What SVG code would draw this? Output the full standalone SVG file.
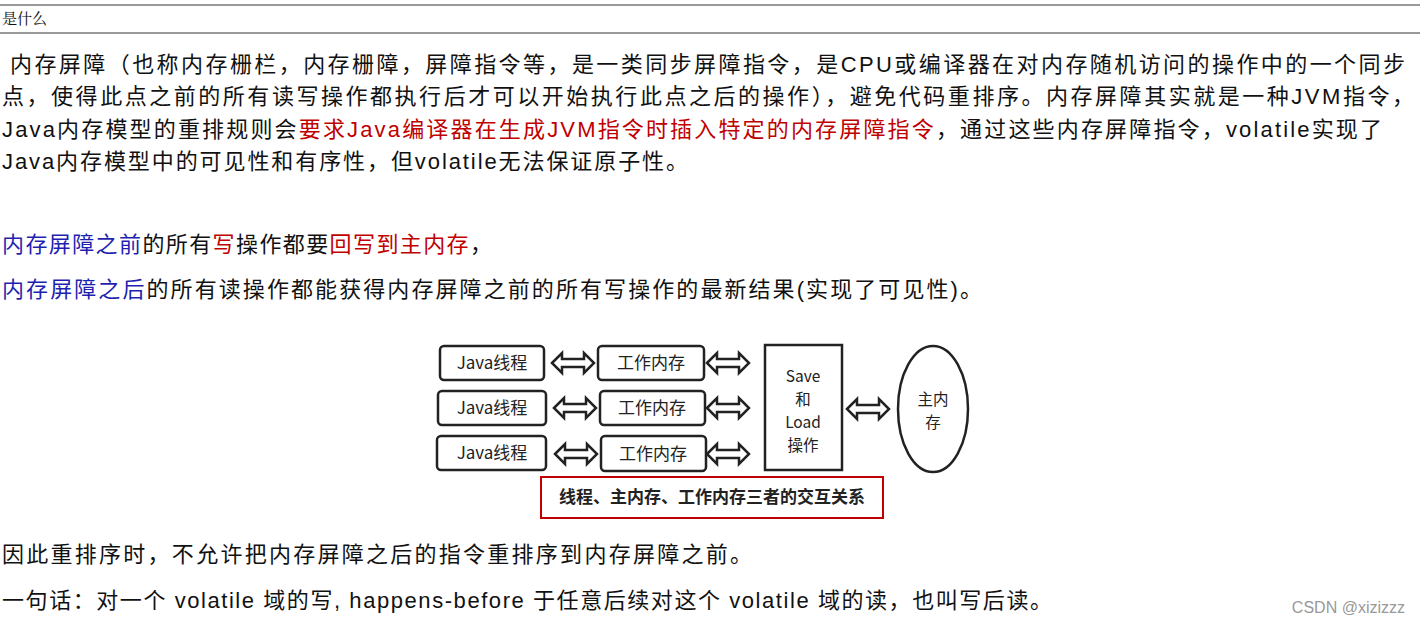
<svg xmlns="http://www.w3.org/2000/svg" width="1420" height="626" viewBox="0 0 1420 626">
<defs>
<style>
.t{font-family:"Liberation Sans","Noto Sans CJK SC",sans-serif;font-size:22px;fill:#111}
.r{fill:#c00000}.b{fill:#1f1fb0}
.n{fill:#fff;stroke:#222;stroke-width:2.5}
.nl{font-family:"Noto Sans CJK SC",sans-serif;font-size:17px;fill:#222;text-anchor:middle}
.sl{font-size:15.5px}
.ar{fill:#fff;stroke:#222;stroke-width:2.5;stroke-linejoin:miter}
</style>
<path id="da" d="M0,0 l10,-10 v6 h22 v-6 l10,10 l-10,10 v-6 h-22 v6 z"/>
</defs>
<rect width="1420" height="626" fill="#fff"/>
<line x1="0" y1="5" x2="1420" y2="5" stroke="#999" stroke-width="2"/>
<line x1="0" y1="33" x2="1420" y2="33" stroke="#999" stroke-width="2"/>
<text x="2" y="24" font-family="'Noto Serif CJK SC','Noto Sans CJK SC',serif" font-size="15" fill="#111">是什么</text>
<text class="t" x="10" y="72" textLength="1395">内存屏障（也称内存栅栏，内存栅障，屏障指令等，是一类同步屏障指令，是CPU或编译器在对内存随机访问的操作中的一个同步</text>
<text class="t" x="2" y="104" textLength="1412">点，使得此点之前的所有读写操作都执行后才可以开始执行此点之后的操作），避免代码重排序。内存屏障其实就是一种JVM指令，</text>
<text class="t" x="2" y="137" textLength="1380">Java内存模型的重排规则会<tspan class="r">要求Java编译器在生成JVM指令时插入特定的内存屏障指令</tspan>，通过这些内存屏障指令，volatile实现了</text>
<text class="t" x="2" y="169" textLength="686">Java内存模型中的可见性和有序性，但volatile无法保证原子性。</text>
<text class="t" x="2" y="252" textLength="490"><tspan class="b">内存屏障之前</tspan>的所有<tspan class="r">写</tspan>操作都要<tspan class="r">回写到主内存</tspan>，</text>
<text class="t" x="2" y="297" textLength="980"><tspan class="b">内存屏障之后</tspan>的所有读操作都能获得内存屏障之前的所有写操作的最新结果(实现了可见性)。</text>
<g id="java1"><rect class="n" x="440" y="346" width="104" height="34" rx="4"/><text class="nl" x="492" y="369">Java线程</text></g>
<g id="java2"><rect class="n" x="438" y="391" width="108" height="34" rx="4"/><text class="nl" x="492" y="414">Java线程</text></g>
<g id="java3"><rect class="n" x="437" y="436" width="109" height="34" rx="4"/><text class="nl" x="492" y="459">Java线程</text></g>
<g id="work1"><rect class="n" x="598" y="346" width="106" height="34" rx="4"/><text class="nl" x="651" y="369">工作内存</text></g>
<g id="work2"><rect class="n" x="600" y="391" width="105" height="34" rx="4"/><text class="nl" x="652" y="414">工作内存</text></g>
<g id="work3"><rect class="n" x="601" y="436" width="105" height="35" rx="4"/><text class="nl" x="653" y="460">工作内存</text></g>
<g id="saveload"><rect class="n" x="765" y="345" width="77" height="125"/>
<text class="nl sl" x="803" y="382">Save</text><text class="nl sl" x="803" y="405">和</text><text class="nl sl" x="803" y="428">Load</text><text class="nl sl" x="803" y="451">操作</text></g>
<g id="main"><ellipse class="n" cx="933" cy="409" rx="35" ry="63"/><text class="nl sl" x="933" y="405">主内</text><text class="nl sl" x="933" y="428">存</text></g>
<g id="connectors">
<use href="#da" class="ar" x="552" y="363"/>
<use href="#da" class="ar" x="554" y="408"/>
<use href="#da" class="ar" x="555" y="454"/>
<use href="#da" class="ar" x="707" y="363"/>
<use href="#da" class="ar" x="707" y="408"/>
<use href="#da" class="ar" x="707" y="454"/>
<use href="#da" class="ar" x="847" y="409"/>
</g>
<g id="caption"><rect x="541" y="477" width="342" height="41" fill="#fff" stroke="#c00000" stroke-width="2"/><text class="nl" x="712" y="503" font-weight="bold">线程、主内存、工作内存三者的交互关系</text></g>
<text class="t" x="2" y="562" textLength="750">因此重排序时，不允许把内存屏障之后的指令重排序到内存屏障之前。</text>
<text class="t" x="2" y="608" textLength="1050">一句话：对一个 volatile 域的写, happens-before 于任意后续对这个 volatile 域的读，也叫写后读。</text>
<text x="1405" y="613" text-anchor="end" font-family="'Liberation Sans',sans-serif" font-size="16" fill="#999">CSDN @xizizzz</text>
</svg>
